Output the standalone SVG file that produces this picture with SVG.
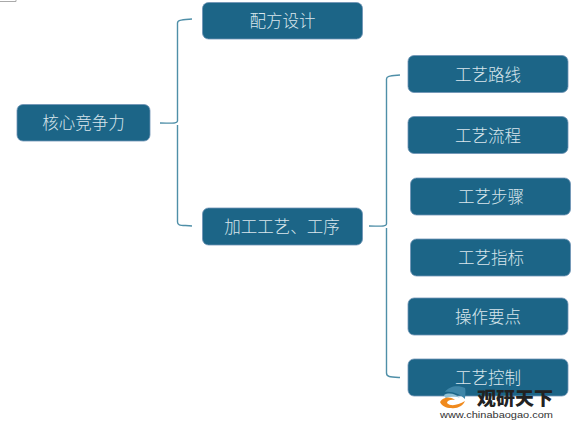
<svg xmlns="http://www.w3.org/2000/svg" width="574" height="429" viewBox="0 0 574 429">
<style>
.box{fill:#1c6587;stroke:#6f93b5;stroke-width:.8}
.t{fill:#d9e6ec;font:300 16.500px "Noto Sans CJK SC","Noto Sans",sans-serif;text-anchor:middle;dominant-baseline:central}
.c{fill:none;stroke:#4f8fa8;stroke-width:1.4}
</style>
<rect width="574" height="429" fill="#fff"/>
<path d="M0 1.500H16V0" fill="none" stroke="#aaa"/>
<g id="connectors">
<path class="c" d="M160 123C170 123 177 124 177.500 121V23C177.500 20 181 20 192 19"/>
<path class="c" d="M177.500 125V222C177.500 226 181 225 192 226"/>
<path class="c" d="M369 226C379 226 386 227 386.500 224V79C386.500 76 390 76 400 75"/>
<path class="c" d="M386.500 228V373C386.500 377 390 377 400 377.500"/>
</g>
<g id="n1"><rect class="box" x="17" y="104.500" width="133" height="36.500" rx="6"/><text class="t" x="83.500" y="121.500">核心竞争力</text></g>
<g id="n2"><rect class="box" x="202.500" y="2.500" width="160" height="36.500" rx="6"/><text class="t" x="282.500" y="19.500">配方设计</text></g>
<g id="n3"><rect class="box" x="202.500" y="208" width="160" height="37" rx="6"/><text class="t" x="282" y="225.500">加工工艺、工序</text></g>
<g id="n4"><rect class="box" x="408" y="55.500" width="160" height="37" rx="6"/><text class="t" x="488" y="73.500">工艺路线</text></g>
<g id="n5"><rect class="box" x="408" y="116.500" width="160" height="37" rx="6"/><text class="t" x="488" y="134.500">工艺流程</text></g>
<g id="n6"><rect class="box" x="410.500" y="178" width="160" height="37" rx="6"/><text class="t" x="491" y="196">工艺步骤</text></g>
<g id="n7"><rect class="box" x="410.500" y="239" width="160" height="37" rx="6"/><text class="t" x="491" y="257">工艺指标</text></g>
<g id="n8"><rect class="box" x="408" y="298" width="160" height="37" rx="6"/><text class="t" x="488" y="316">操作要点</text></g>
<g id="n9"><rect class="box" x="408" y="359" width="160" height="37" rx="6"/><text class="t" x="488" y="377">工艺控制</text></g>
<g id="logo">
<path d="M445 392C449 386 458 385 465 388C466 392 465 397 465 399C460 394 452 391 445 392Z" fill="#3f86a8"/>
<path d="M444 395C449 392 456 394 460 398C454 396 449 396 446 399Z" fill="#8fc0d4"/>
<path d="M440 402C444 396 452 397 455 400C450 399 447 401 447 403C451 407 458 405 465 401C463 406 457 409 451 408C446 408 442 406 440 402Z" fill="#f08a1d"/>
<text x="477" y="405" font-family="'Noto Sans CJK SC',sans-serif" font-weight="900" font-size="18.500" fill="#222" textLength="76" lengthAdjust="spacingAndGlyphs">观研天下</text>
<text x="440" y="418" font-family="'Liberation Sans',sans-serif" font-size="9.500" fill="#333" textLength="113" lengthAdjust="spacingAndGlyphs">www.chinabaogao.com</text>
</g>
</svg>
